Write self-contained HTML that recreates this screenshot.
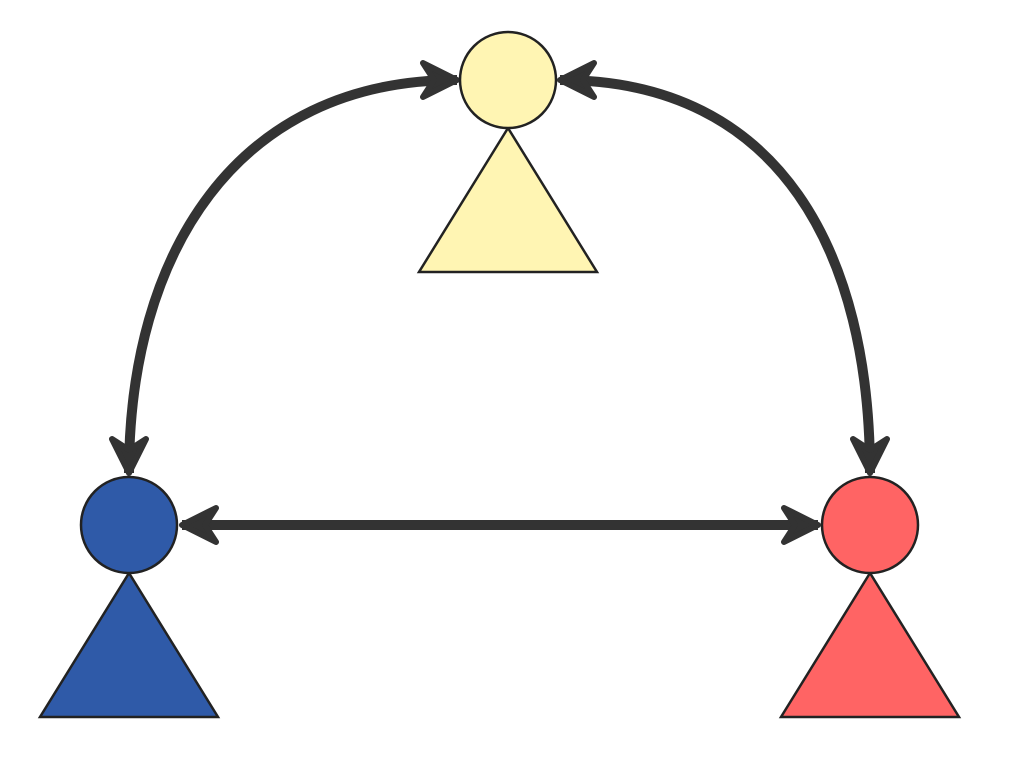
<!DOCTYPE html>
<html><head><style>html,body{margin:0;padding:0;background:#fff;}</style></head>
<body>
<svg width="1024" height="767" viewBox="0 0 1024 767" xmlns="http://www.w3.org/2000/svg">
<defs>
<marker id="a" markerUnits="userSpaceOnUse" viewBox="-44 -24 48 48" refX="0" refY="0" markerWidth="48" markerHeight="48" orient="auto-start-reverse">
<path d="M0 0 L-34 -17 L-23 0 L-34 17 Z" fill="#333" stroke="#333" stroke-width="6" stroke-linejoin="round"/>
</marker>
</defs>
<g fill="none" stroke="#333" stroke-width="10">
<path d="M457 80 C 235 80, 129 255, 129 473" marker-start="url(#a)" marker-end="url(#a)"/>
<path d="M560 80 C 782 80, 870 255, 870 473" marker-start="url(#a)" marker-end="url(#a)"/>
<path d="M182 525 L818 525" marker-start="url(#a)" marker-end="url(#a)"/>
</g>
<g stroke="#222" stroke-width="2.5">
<polygon points="508,128 419,272 597,272" fill="#fff5b3"/>
<circle cx="508" cy="80" r="48" fill="#fff5b3"/>
<polygon points="129,573 40,717 218,717" fill="#2f5aa8"/>
<circle cx="129" cy="525" r="48" fill="#2f5aa8"/>
<polygon points="870,573 781,717 959,717" fill="#ff6464"/>
<circle cx="870" cy="525" r="48" fill="#ff6464"/>
</g>
</svg>
</body></html>
